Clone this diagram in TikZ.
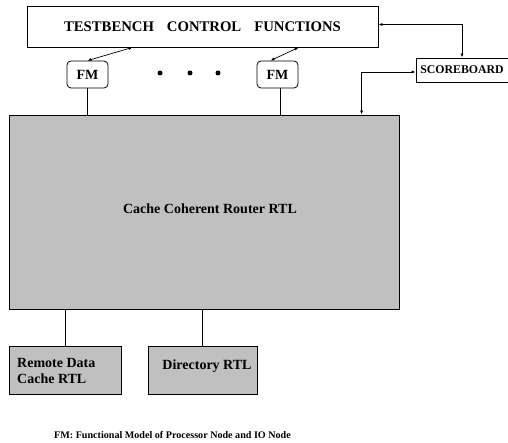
\documentclass[tikz,border=0pt]{standalone}
\usepackage{fontspec}
\setmainfont{Liberation Serif}
\usetikzlibrary{arrows.meta,calc}
\definecolor{blockgray}{RGB}{192,192,192}
\begin{document}
\begin{tikzpicture}[x=1pt,y=-1pt,
  every node/.style={font=\bfseries, inner sep=0pt},
  box/.style={draw, line width=0.8pt},
  rtl/.style={box, fill=blockgray},
  fmbox/.style={box, rounded corners=4pt, minimum width=41pt, minimum height=27pt, font=\bfseries\fontsize{14}{16}\selectfont},
  link/.style={line width=0.7pt},
  dlink/.style={line width=0.7pt, {Latex[length=4pt,width=3pt]}-{Latex[length=4pt,width=3pt]}},
  dot/.style={circle, fill, minimum size=5pt}
]
\useasboundingbox (0,0) rectangle (508,443);

% testbench control block
\node[box, minimum width=351pt, minimum height=41pt,
      font=\bfseries\fontsize{14.7}{16}\selectfont] (tb) at (202.5,26.5)
  {TESTBENCH\hspace{13pt}CONTROL\hspace{13pt}FUNCTIONS};

% functional models
\node[fmbox] (fm1) at (87.5,74.5) {FM};
\node[fmbox] (fm2) at (277.5,74.5) {FM};
\node[dot] (d1) at (160,73) {};
\node[dot] (d2) at (190,73) {};
\node[dot] (d3) at (218,73) {};

% scoreboard
\node[box, minimum width=92pt, minimum height=24pt,
      font=\bfseries\fontsize{11.8}{14}\selectfont] (sb) at (462,70) {SCOREBOARD};

% router under test
\node[rtl, minimum width=390pt, minimum height=194pt] (cache) at (204,212) {};
\node[font=\bfseries\fontsize{14}{16}\selectfont] (cachelbl) at (210,209) {Cache Coherent Router RTL};

% memory side blocks
\node[rtl, minimum width=112pt, minimum height=48pt] (rd) at (65,370) {};
\node[font=\bfseries\fontsize{14}{16}\selectfont, align=left, anchor=west] (rdlbl) at (17,371)
  {Remote Data\\Cache RTL};
\node[rtl, minimum width=109pt, minimum height=48pt] (dir) at (202.5,370) {};
\node[font=\bfseries\fontsize{14}{16}\selectfont] (dirlbl) at (207,366) {Directory RTL};

% legend
\node[font=\bfseries\fontsize{10.1}{12}\selectfont, anchor=west] (legend) at (54,435)
  {FM: Functional Model of Processor Node and IO Node};

% connections
\coordinate (tbl) at ($(tb.south west)+(106,0)$);
\coordinate (tbr) at ($(tb.south west)+(272,0)$);
\draw[dlink] (tbl) -- (fm1.north);
\draw[dlink] (tbr) -- ($(fm2.north)+(-7,0)$);
\draw[link] (fm1.south) -- (fm1.south |- cache.north);
\coordinate (fm2b) at ($(fm2.south)+(3,0)$);
\draw[link] (fm2b) -- (fm2b |- cache.north);

\coordinate (tbe) at ($(tb.east)+(0,-2)$);
\draw[dlink] (tbe) -| (sb.north);
\coordinate (sbw) at ($(sb.west)+(0,2)$);
\coordinate (cachein) at ($(cache.north west)+(353,0)$);
\draw[dlink] (sbw) -| (cachein);

\draw[link] (rd.north) -- (rd.north |- cache.south);
\draw[link] (dir.north) -- (dir.north |- cache.south);
\end{tikzpicture}
\end{document}
